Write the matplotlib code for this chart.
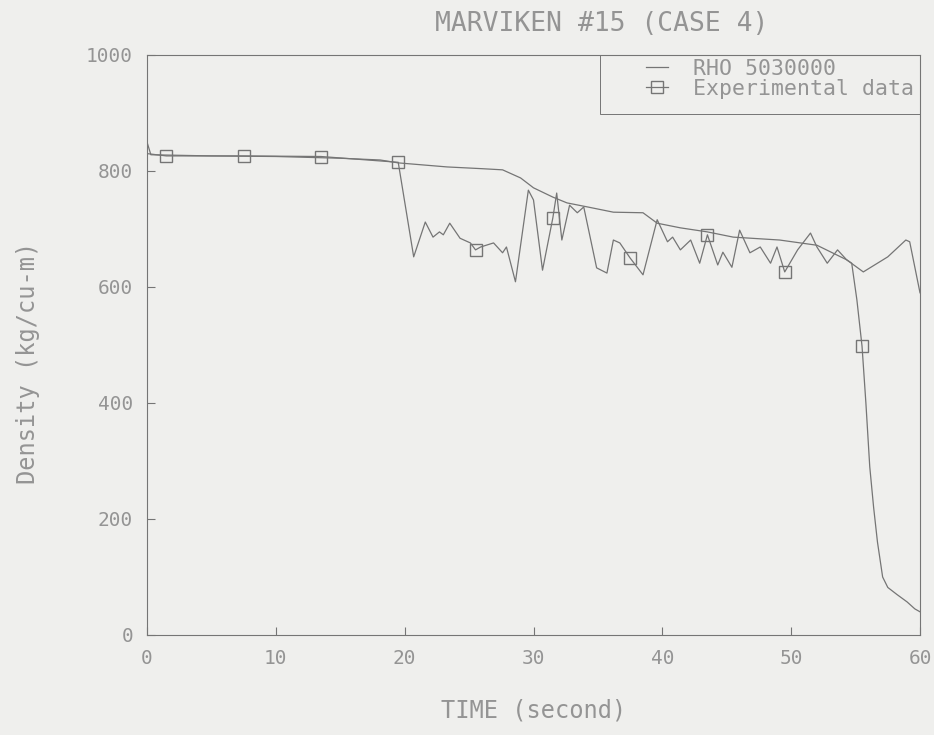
import matplotlib
matplotlib.use("Agg")
import matplotlib.pyplot as plt
from matplotlib.patches import Rectangle

# calculated density, RELAP volume 5030000
calc_t = [0, 0.3, 5, 10, 15, 18.1, 19.5, 23.3, 26, 27.6, 29.0, 30.0, 31.5, 32.6,
          34.2, 36.2, 38.5, 39.6, 41.4, 43.5, 45.5, 49.1, 52, 54.3, 55.6, 57.5,
          58.9, 59.2, 60]
calc_rho = [850, 828, 826, 825, 822, 819, 814, 807, 804, 802, 788, 771, 755, 745,
            738, 729, 728, 710, 702, 695, 686, 681, 672, 647, 626, 652,
            681, 678, 590]

# measured density
exp_t = [0, 1.5, 7.5, 13.5, 19.5, 20.7, 21.6, 22.2, 22.7, 23.0, 23.5, 24.3, 25.1,
         25.5, 25.9, 26.9, 27.6, 27.9, 28.6, 29.6, 30.0, 30.7, 31.5, 31.8, 32.2,
         32.8, 33.4, 33.9, 34.9, 35.7, 36.2, 36.7, 37.5, 38.5, 39.6, 40.4, 40.8,
         41.4, 42.2, 42.9, 43.5, 44.3, 44.7, 45.4, 46.0, 46.8, 47.6, 48.4, 48.9,
         49.5, 50.5, 51.5, 52.0, 52.8, 53.6, 54.3, 54.7, 55.1, 55.5, 55.8, 56.1,
         56.4, 56.7, 57.1, 57.5, 58.2, 59.0, 59.6, 60]
exp_rho = [830, 826, 826, 825, 815, 652, 712, 686, 695, 690, 710, 684, 676,
           664, 669, 676, 659, 669, 609, 767, 750, 629, 719, 762, 681,
           741, 728, 738, 633, 624, 681, 676, 650, 621, 716, 678, 686,
           664, 681, 641, 690, 638, 660, 634, 698, 659, 669, 641, 669,
           626, 664, 693, 669, 641, 664, 647, 641, 578, 498, 400, 290,
           220, 160, 100, 82, 70, 57, 45, 40]
marker_t = [1.5, 7.5, 13.5, 19.5, 25.5, 31.5, 37.5, 43.5, 49.5, 55.5]

xticks = [0, 10, 20, 30, 40, 50, 60]
yticks = [0, 200, 400, 600, 800, 1000]

paper = "#efefed"
ink = "#757575"
txt = "#949494"
font = "DejaVu Sans Mono"

fig = plt.figure(figsize=(9.34, 7.35), dpi=100, facecolor=paper)
ax = fig.add_axes([147 / 934, 1 - 635 / 735, 773 / 934, 580 / 735], facecolor=paper)

ax.plot(calc_t, calc_rho, color=ink, lw=0.9, label="RHO 5030000")
marks = [exp_t.index(t) for t in marker_t]
ax.plot(exp_t, exp_rho, color=ink, lw=0.9, marker="s", markevery=marks,
        markersize=9, markerfacecolor="none", markeredgecolor=ink,
        markeredgewidth=1.0, label="Experimental data")

ax.set_xlim(0, 60)
ax.set_ylim(0, 1000)
ax.set_xticks(xticks)
ax.set_yticks(yticks)
ax.tick_params(direction="in", length=6, width=0.8, color=ink,
               labelcolor=txt, labelsize=14, pad=10)
for lab in ax.get_xticklabels() + ax.get_yticklabels():
    lab.set_family(font)
for s in ax.spines.values():
    s.set_color(ink)
    s.set_linewidth(0.8)

ax.set_xlabel("TIME (second)", family=font, fontsize=17, color=txt, labelpad=22)
ax.set_ylabel("Density (kg/cu-m)", family=font, fontsize=17, color=txt)
ax.yaxis.set_label_coords(-0.138, 0.47)

fig.text(602 / 934, 1 - 24 / 735, "MARVIKEN #15 (CASE 4)", family=font,
         fontsize=19, color=txt, ha="center", va="center")

# legend box hangs off the top right corner of the frame
ax.add_patch(Rectangle((0.586, 0.898), 0.414, 0.102, transform=ax.transAxes,
                       fill=False, edgecolor=ink, lw=0.7, clip_on=False))
leg = ax.legend(loc="upper right", bbox_to_anchor=(0.997, 0.999), borderaxespad=0,
                frameon=False, prop={"family": font, "size": 15.5},
                handlelength=1.0, handletextpad=1.2, labelspacing=0.0,
                borderpad=0.15)
for t in leg.get_texts():
    t.set_color(txt)

fig.savefig("out.png", dpi=100, facecolor=paper)
